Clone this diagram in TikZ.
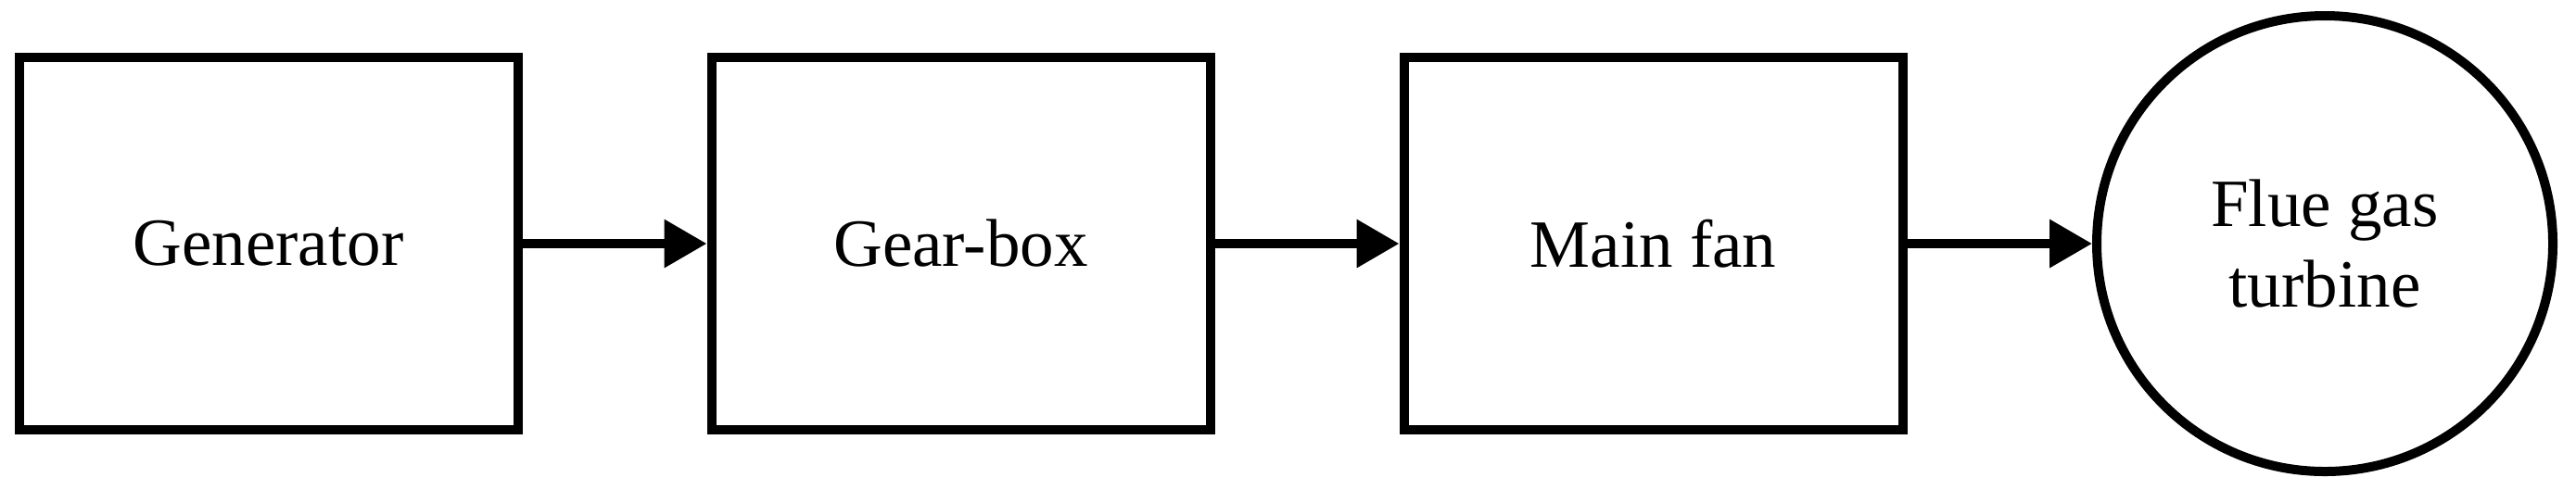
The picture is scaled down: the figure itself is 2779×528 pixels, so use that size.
\documentclass[tikz,border=0pt]{standalone}
\usepackage{fontspec}
\setmainfont{Liberation Serif}
\usetikzlibrary{arrows.meta}
\begin{document}
\begin{tikzpicture}[x=0.25pt,y=-0.25pt,
  blockbox/.style={draw,line width=2.5pt,minimum width=134.5pt,minimum height=100.5pt,inner sep=0pt,font=\fontsize{18.25}{21.75}\selectfont},
  roundbox/.style={draw,circle,line width=2.5pt,minimum size=123pt,inner sep=0pt,align=center,font=\fontsize{18.25}{21.75}\selectfont},
  flow/.style={line width=2.5pt,-{Triangle[length=11.5pt,width=12.5pt]}}]
\useasboundingbox (0,0) rectangle (2779,528);
\node[blockbox] (gen) at (289.5,263) {Generator};
\node[blockbox] (gear) at (1036.5,263) {Gear-box};
\node[blockbox] (fan) at (1783.5,263) {Main fan};
\node[roundbox] (turb) at (2508,263) {Flue gas\\turbine};
\draw[flow] (gen.east) -- (gear.west);
\draw[flow] (gear.east) -- (fan.west);
\draw[flow] (fan.east) -- (turb.west);
\end{tikzpicture}
\end{document}
